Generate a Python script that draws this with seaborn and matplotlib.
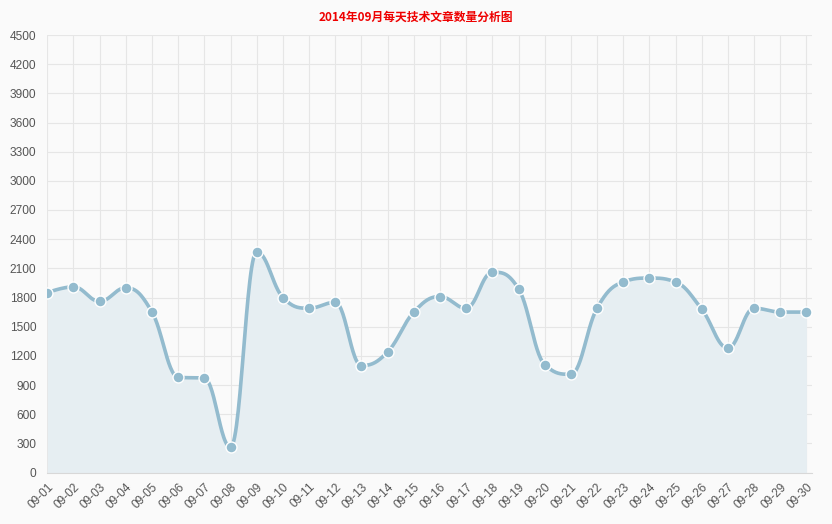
import numpy as np
import matplotlib
matplotlib.use('Agg')
import matplotlib.pyplot as plt
import seaborn as sns

days = ['09-%02d' % d for d in range(1, 31)]
counts = [1850, 1910, 1760, 1900, 1650, 980, 970, 260, 2270, 1800,
          1690, 1750, 1100, 1240, 1650, 1810, 1690, 2060, 1890, 1110,
          1010, 1690, 1960, 2000, 1960, 1680, 1280, 1690, 1650, 1650]
title = '2014年09月每天技术文章数量分析图'

line_color = '#93bbce'
fill_color = '#e6eef2'
bg_color = '#fafafa'

sns.set_theme(style='white')
plt.rcParams['font.family'] = ['Noto Sans CJK SC', 'DejaVu Sans']


def spline_curve(xs, ys, smoothing=1.5, steps=30):
    # highcharts-like spline: cubic bezier with control points per point
    n = len(xs)
    denom = smoothing + 1
    lc = [(xs[i], ys[i]) for i in range(n)]
    rc = [(xs[i], ys[i]) for i in range(n)]
    for i in range(1, n - 1):
        px, py = xs[i], ys[i]
        lx, ly = xs[i - 1], ys[i - 1]
        nx, ny = xs[i + 1], ys[i + 1]
        lcx = (smoothing * px + lx) / denom
        lcy = (smoothing * py + ly) / denom
        rcx = (smoothing * px + nx) / denom
        rcy = (smoothing * py + ny) / denom
        corr = ((rcy - lcy) * (rcx - px)) / (rcx - lcx) + py - rcy
        lcy += corr
        rcy += corr
        if lcy > ly and lcy > py:
            lcy = max(ly, py)
            rcy = 2 * py - lcy
        elif lcy < ly and lcy < py:
            lcy = min(ly, py)
            rcy = 2 * py - lcy
        if rcy > ny and rcy > py:
            rcy = max(ny, py)
            lcy = 2 * py - rcy
        elif rcy < ny and rcy < py:
            rcy = min(ny, py)
            lcy = 2 * py - rcy
        lc[i] = (lcx, lcy)
        rc[i] = (rcx, rcy)
    t = np.linspace(0, 1, steps)
    cx, cy = [], []
    for i in range(1, n):
        p0 = np.array([xs[i - 1], ys[i - 1]])
        p1 = np.array(rc[i - 1])
        p2 = np.array(lc[i])
        p3 = np.array([xs[i], ys[i]])
        pts = ((1 - t)[:, None] ** 3 * p0 + 3 * (1 - t)[:, None] ** 2 * t[:, None] * p1
               + 3 * (1 - t)[:, None] * t[:, None] ** 2 * p2 + t[:, None] ** 3 * p3)
        cx.extend(pts[:, 0])
        cy.extend(pts[:, 1])
    return np.array(cx), np.array(cy)


x = np.arange(len(days))
y = np.array(counts, dtype=float)
sx, sy = spline_curve(x, y)

fig = plt.figure(figsize=(8.32, 5.24), dpi=100)
fig.patch.set_facecolor(bg_color)
ax = fig.add_axes([47.3 / 832, 1 - 472.5 / 524, (811.7 - 47.3) / 832, (472.5 - 35) / 524])
ax.set_facecolor(bg_color)

ax.fill_between(sx, 0, sy, color=fill_color, lw=0, zorder=2)
sns.lineplot(x=sx, y=sy, ax=ax, color=line_color, lw=2.6, sort=False, zorder=3)
sns.scatterplot(x=x, y=y, ax=ax, color=line_color, s=62, edgecolor='white',
                linewidth=1.0, zorder=4)

ax.set_xlim(0, 29.2)
ax.set_ylim(0, 4500)
ax.set_xticks(x)
ax.set_xticklabels(days, rotation=45, ha='right', rotation_mode='anchor')
ax.set_yticks(np.arange(0, 4501, 300))
ax.tick_params(axis='both', labelsize=8.6, colors='#666666', length=4, width=0.8)
ax.tick_params(axis='x', pad=2, color='#cccccc')
ax.tick_params(axis='y', color='#dddddd', pad=4)
for lab in ax.get_xticklabels() + ax.get_yticklabels():
    lab.set_color('#555555')
    lab.set_family('Liberation Sans')

ax.grid(True, color='#e6e6e6', lw=0.8, zorder=1)
ax.set_axisbelow(True)
for s in ['top', 'right', 'left']:
    ax.spines[s].set_visible(False)
ax.spines['bottom'].set_color('#d8d8d8')
ax.spines['bottom'].set_linewidth(0.8)
ax.set_xlabel('')
ax.set_ylabel('')

fig.text(0.5, 1 - 17 / 524, title, ha='center', va='center', color='#ee0000',
         fontsize=8.5, fontweight='bold')

fig.savefig('out.png', dpi=100, facecolor=bg_color)
